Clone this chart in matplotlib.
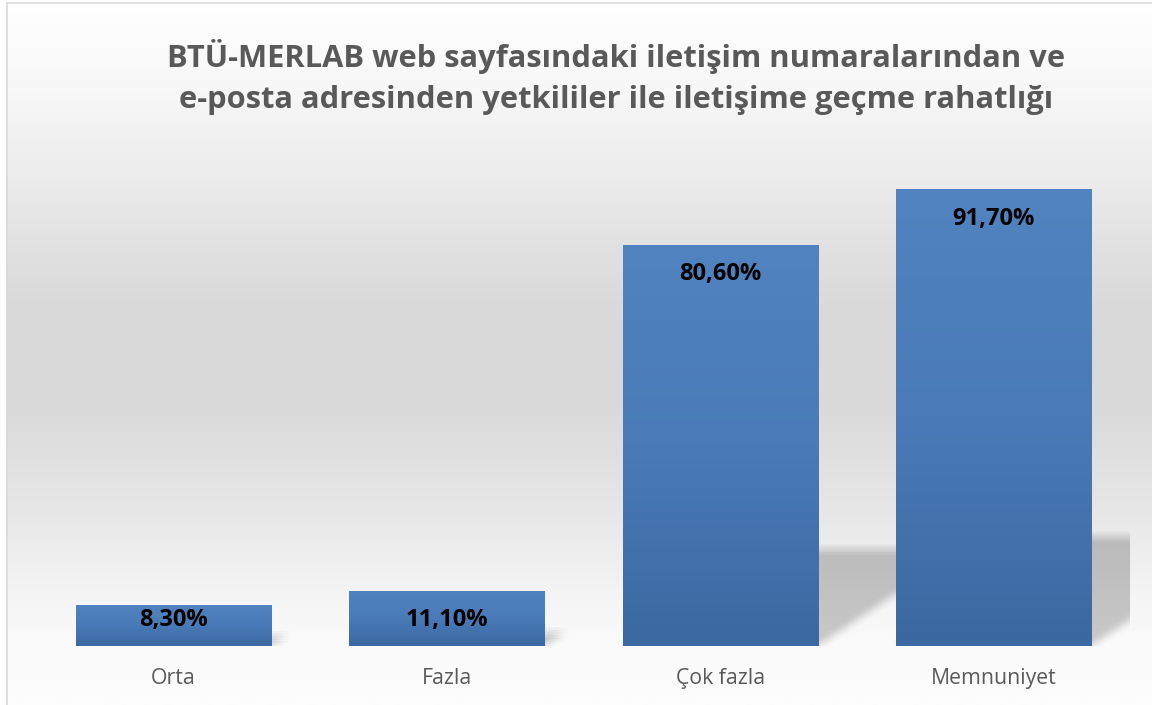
import numpy as np
import matplotlib
matplotlib.use('Agg')
import matplotlib.pyplot as plt
from matplotlib.patches import Polygon, Rectangle
from matplotlib.colors import LinearSegmentedColormap

# ---- data ----
categories = ['Orta', 'Fazla', 'Çok fazla', 'Memnuniyet']
values = [8.3, 11.1, 80.6, 91.7]
value_labels = ['8,30%', '11,10%', '80,60%', '91,70%']
title = ('BTÜ-MERLAB web sayfasındaki iletişim numaralarından ve\n'
         'e-posta adresinden yetkililer ile iletişime geçme rahatlığı')

plt.rcParams['font.family'] = ['Open Sans', 'DejaVu Sans']

W, H = 1152, 705
fig = plt.figure(figsize=(W / 100, H / 100), dpi=100)

# ---- background gradient (whole chart area) ----
bg_ax = fig.add_axes([0, 0, 1, 1], zorder=-10)
bg_stops = [(0.0, '#ffffff'), (100 / H, '#f6f6f6'), (200 / H, '#e8e8e8'),
            (300 / H, '#dadada'), (400 / H, '#d9d9d9'), (500 / H, '#e5e5e5'),
            (580 / H, '#f2f2f2'), (640 / H, '#fafafa'), (1.0, '#fdfdfd')]
bg_cmap = LinearSegmentedColormap.from_list('bg', bg_stops)
bg_ax.imshow(np.linspace(0, 1, 512)[:, None], cmap=bg_cmap, aspect='auto',
             extent=[0, 1, 0, 1], origin='upper', interpolation='bilinear')
bg_ax.axis('off')
fig.add_artist(Rectangle((0, 0), 7 / W, 1, transform=fig.transFigure,
                         facecolor='white', edgecolor='none', zorder=-5))
fig.add_artist(Rectangle((0, 1 - 3 / H), 1, 3 / H, transform=fig.transFigure,
                         facecolor='white', edgecolor='none', zorder=-5))
fig.add_artist(Rectangle((7 / W, -0.05), 1.2, 1.05 - 3 / H, transform=fig.transFigure,
                         facecolor='none', edgecolor='#d9d9d9', lw=1.2, zorder=-4))

# ---- main axes ----
ax = fig.add_axes([37 / W, 59 / H, 1093 / W, 498 / H])
ax.set_facecolor('none')
x = np.arange(len(categories))
bar_w = 0.714

px_per_y = 498 / 100.0
px_per_x = 1093 / 4.0

# soft perspective shadows (box-blurred by stacking offset copies)
offs = np.linspace(-5, 5, 5)
n_layers = len(offs) ** 2
layer_alpha = 1 - (1 - 0.175) ** (1.0 / n_layers)
for xi, v in zip(x, values):
    sh = 0.24 * v
    dx = 1.5 * sh * px_per_y / px_per_x
    x0, x1 = xi - bar_w / 2, xi + bar_w / 2
    base = np.array([(x0, 0), (x1, 0), (x1 + dx, sh), (x0 + dx, sh)])
    for ox in offs:
        for oy in offs:
            pts = base + np.array([ox / px_per_x, oy / px_per_y])
            ax.add_patch(Polygon(pts, closed=True, facecolor='black', edgecolor='none',
                                 alpha=layer_alpha, zorder=1))

bars = ax.bar(x, values, width=bar_w, color='#4675b0', zorder=2, linewidth=0)
bar_cmap = LinearSegmentedColormap.from_list('bar', ['#3b68a0', '#4a7bb8', '#5083bf'])
for b in bars:
    x0, y0 = b.get_x(), b.get_y()
    im = ax.imshow(np.linspace(0, 1, 256)[:, None], cmap=bar_cmap, aspect='auto',
                   extent=[x0, x0 + b.get_width(), y0, y0 + b.get_height()],
                   origin='lower', zorder=2.1, interpolation='bilinear')
    im.set_clip_path(b)

for xi, v, lab in zip(x, values, value_labels):
    ax.text(xi, max(v - 6.0, 5.2), lab, ha='center', va='center',
            fontsize=17, fontweight='bold', color='black', zorder=3)

ax.set_xlim(-0.5, 3.5)
ax.set_ylim(0, 100)
ax.set_xticks(x, categories)
ax.tick_params(axis='x', length=0, pad=16, labelsize=15.3, labelcolor='#595959')
ax.set_yticks([])
for s in ax.spines.values():
    s.set_visible(False)

fig.text(616 / W, 1 - 77 / H, title, ha='center', va='center', fontsize=22.2,
         fontweight='bold', color='#595959', linespacing=1.45)

fig.savefig('out.png', dpi=100)
